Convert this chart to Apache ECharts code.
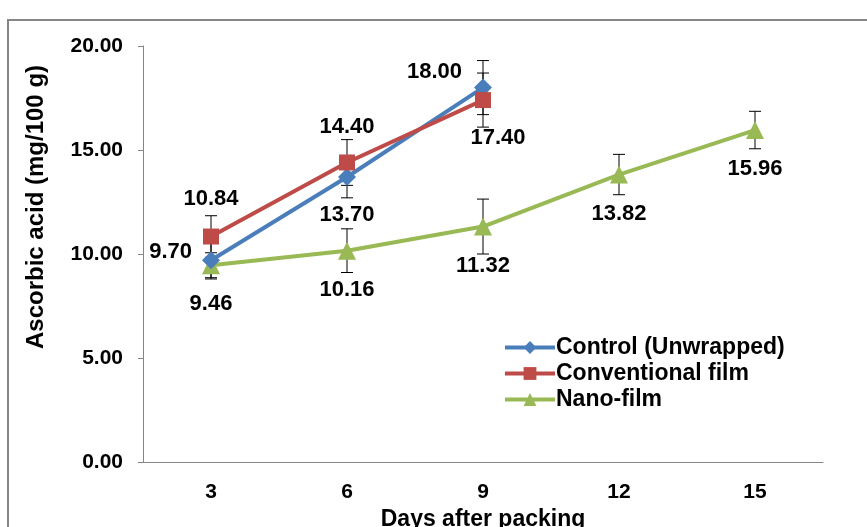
<!DOCTYPE html>
<html>
<head>
<meta charset="utf-8">
<script src="https://cdn.jsdelivr.net/npm/echarts@6/dist/echarts.min.js"></script>
<style>
  html, body { margin: 0; padding: 0; background: #fff; }
  #chart { width: 867px; height: 527px; }
</style>
</head>
<body>
<div id="chart"></div>
<script>
// data
const days = ['3', '6', '9', '12', '15'];
const controlVals = [9.70, 13.70, 18.00];
const conventionalVals = [10.84, 14.40, 17.40];
const nanoVals = [9.46, 10.16, 11.32, 13.82, 15.96];
// error bar half-widths (estimated)
const controlErr = [0.9, 1.0, 1.3];
const conventionalErr = [1.0, 1.1, 1.3];
const nanoErr = [0.6, 1.05, 1.32, 0.97, 0.9];
const yTicks = [0, 5, 10, 15, 20];

const labelFont = { fontFamily: 'Liberation Sans, Arial', fontWeight: 'bold', fontSize: 22, color: '#000' };

// per-point label placement
const controlLabels = [
    { position: 'left', distance: 10, offset: [0, -8] },
    { position: 'bottom', distance: 18 },
    { position: 'left', distance: 12, offset: [0, -16] }
];
const conventionalLabels = [
    { position: 'top', distance: 19 },
    { position: 'top', distance: 17 },
    { position: 'bottom', distance: 19, offset: [15, 0] }
];
const nanoLabels = days.map(() => ({ position: 'bottom', distance: 19 }));

const withLabels = (vals, labels) => vals.map((v, i) => ({
    value: v,
    label: Object.assign({ show: true, formatter: (p) => p.value.toFixed(2) }, labelFont, labels[i])
}));

const errData = (vals, errs) => vals.map((v, i) => [i, v - errs[i], v + errs[i]]);

const errorSeries = (vals, errs) => ({
    type: 'custom',
    z: 1,
    silent: true,
    data: errData(vals, errs),
    renderItem: (params, api) => {
        const lo = api.coord([api.value(0), api.value(1)]);
        const hi = api.coord([api.value(0), api.value(2)]);
        const w = 6;
        const style = { stroke: '#000', lineWidth: 1 };
        return {
            type: 'group',
            children: [
                { type: 'line', shape: { x1: hi[0], y1: hi[1], x2: lo[0], y2: lo[1] }, style },
                { type: 'line', shape: { x1: hi[0] - w, y1: hi[1], x2: hi[0] + w, y2: hi[1] }, style },
                { type: 'line', shape: { x1: lo[0] - w, y1: lo[1], x2: lo[0] + w, y2: lo[1] }, style }
            ]
        };
    }
});

const chart = echarts.init(document.getElementById('chart'));
chart.setOption({
    animation: false,
    backgroundColor: '#fff',
    graphic: [{
        type: 'rect',
        shape: { x: 8, y: 20, width: 900, height: 600 },
        style: { fill: 'none', stroke: '#868686', lineWidth: 2 },
        silent: true
    }],
    grid: { left: 143, right: 44, top: 46, bottom: 65, containLabel: false, outerBoundsMode: 'none' },
    legend: {
        orient: 'vertical',
        left: 498,
        top: 331,
        itemGap: 3,
        itemWidth: 50,
        itemHeight: 16,
        lineStyle: { width: 4 },
        data: ['Control (Unwrapped)', 'Conventional film', 'Nano-film'],
        textStyle: Object.assign({}, labelFont, { fontSize: 23, padding: [0, 0, 0, -4] })
    },
    xAxis: {
        type: 'category',
        data: days,
        name: 'Days after packing',
        nameLocation: 'middle',
        nameGap: 44,
        nameTextStyle: Object.assign({}, labelFont, { fontSize: 23 }),
        axisLine: { lineStyle: { color: '#868686', width: 1 } },
        axisTick: { length: 6, lineStyle: { color: '#868686' } },
        axisLabel: Object.assign({}, labelFont, { fontSize: 21, margin: 20 })
    },
    yAxis: {
        type: 'value',
        min: yTicks[0],
        max: yTicks[yTicks.length - 1],
        interval: 5,
        name: 'Ascorbic acid (mg/100 g)',
        nameLocation: 'middle',
        nameGap: 95,
        nameTextStyle: Object.assign({}, labelFont, { fontSize: 24, padding: [0, 0, 0, 94] }),
        axisLine: { show: true, lineStyle: { color: '#868686', width: 1 } },
        axisTick: { show: true, length: 5, lineStyle: { color: '#868686' } },
        splitLine: { show: false },
        axisLabel: Object.assign({}, labelFont, { fontSize: 21, margin: 20, formatter: (v) => v.toFixed(2) })
    },
    series: [
        errorSeries(controlVals, controlErr),
        errorSeries(conventionalVals, conventionalErr),
        errorSeries(nanoVals, nanoErr),
        {
            name: 'Control (Unwrapped)',
            type: 'line',
            z: 3,
            data: withLabels(controlVals, controlLabels),
            symbol: 'diamond',
            symbolSize: 18,
            itemStyle: { color: '#4A7EBB' },
            lineStyle: { color: '#4A7EBB', width: 4 }
        },
        {
            name: 'Conventional film',
            type: 'line',
            z: 4,
            data: withLabels(conventionalVals, conventionalLabels),
            symbol: 'rect',
            symbolSize: 16,
            itemStyle: { color: '#BE4B48' },
            lineStyle: { color: '#BE4B48', width: 4 }
        },
        {
            name: 'Nano-film',
            type: 'line',
            z: 2,
            data: withLabels(nanoVals, nanoLabels),
            symbol: 'triangle',
            symbolSize: 18,
            itemStyle: { color: '#98B954' },
            lineStyle: { color: '#98B954', width: 4 }
        }
    ]
});
</script>
</body>
</html>
